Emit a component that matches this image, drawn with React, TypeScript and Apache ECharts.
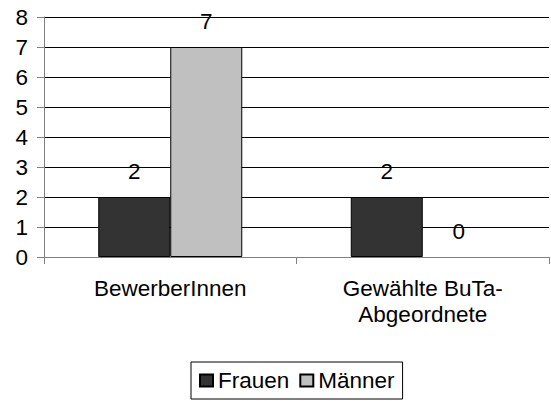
import React, { useEffect, useRef } from "react";
import * as echarts from "echarts";

const categories = ["BewerberInnen", "Gewählte BuTa-\nAbgeordnete"];
const frauen = [2, 2];
const maenner = [7, 0];
const seriesNames = ["Frauen", "Männer"];

const FONT = "'Liberation Sans', Arial, Helvetica, sans-serif";
const FS = 22.5;

const toData = (vals: number[]) =>
  vals.map((v) => (v === 0 ? { value: v, itemStyle: { borderWidth: 0 } } : v));

export default function App() {
  const ref = useRef<HTMLDivElement>(null);
  useEffect(() => {
    if (!ref.current) return;
    const chart = echarts.init(ref.current, null, { renderer: "svg" });
    const label = {
      show: true,
      position: "top",
      distance: 14,
      color: "#000",
      fontSize: FS,
      fontFamily: FONT,
    };
    chart.setOption({
      animation: false,
      backgroundColor: "#fff",
      textStyle: { fontFamily: FONT },
      grid: { left: 44, right: 2, top: 17, bottom: 144, containLabel: false },
      xAxis: {
        type: "category",
        data: categories,
        axisLine: { lineStyle: { color: "#808080", width: 1 } },
        axisTick: { show: true, length: 7, lineStyle: { color: "#808080" } },
        axisLabel: { color: "#000", fontSize: FS, fontFamily: FONT, margin: 18, lineHeight: 26 },
      },
      yAxis: {
        type: "value",
        min: 0,
        max: 8,
        interval: 1,
        axisLine: { show: true, lineStyle: { color: "#808080", width: 1 } },
        axisTick: { show: true, length: 7, lineStyle: { color: "#808080" } },
        axisLabel: { color: "#000", fontSize: FS, fontFamily: FONT, margin: 16 },
        splitLine: { show: true, lineStyle: { color: "#000", width: 1 } },
      },
      legend: {
        data: seriesNames,
        icon: "rect",
        left: 191,
        top: 362,
        padding: [7, 8, 7, 8],
        itemWidth: 13,
        itemHeight: 12,
        itemGap: 10,
        borderColor: "#000",
        borderWidth: 1,
        textStyle: { color: "#000", fontSize: FS, fontFamily: FONT },
      },
      series: [
        {
          name: seriesNames[0],
          type: "bar",
          data: toData(frauen),
          barWidth: 72,
          barGap: "0%",
          itemStyle: { color: "#333333", borderColor: "#000", borderWidth: 1 },
          label,
        },
        {
          name: seriesNames[1],
          type: "bar",
          data: toData(maenner),
          barWidth: 72,
          barGap: "0%",
          itemStyle: { color: "#c0c0c0", borderColor: "#000", borderWidth: 1 },
          label,
        },
      ],
    });
    return () => chart.dispose();
  }, []);
  return (
    <div
      ref={ref}
      style={{ position: "absolute", left: 0, top: 0, width: 551, height: 401 }}
    />
  );
}
